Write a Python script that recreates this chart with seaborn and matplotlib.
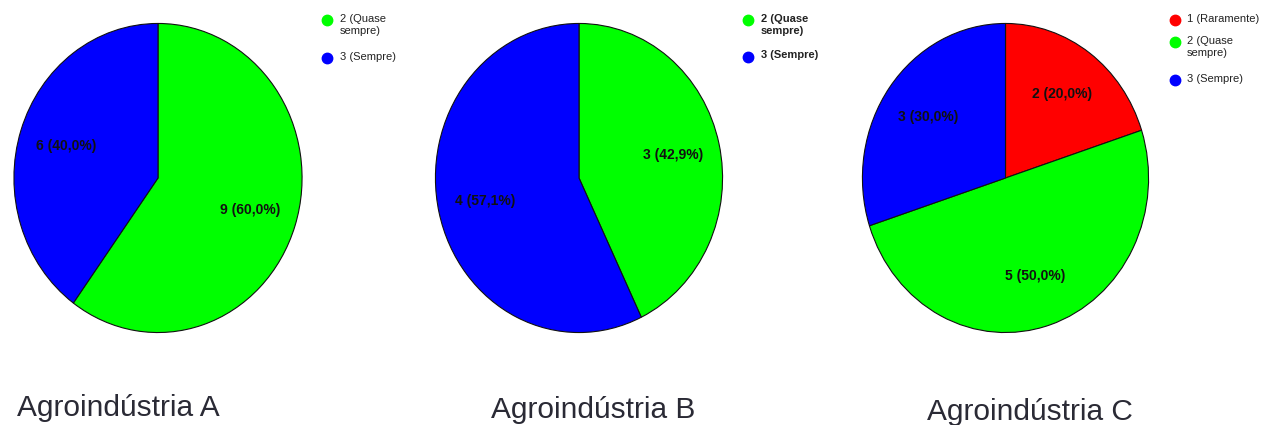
import matplotlib
matplotlib.use("Agg")
import matplotlib.pyplot as plt
from matplotlib.lines import Line2D
import seaborn as sns

sns.set_theme(style="white")
plt.rcParams['font.family'] = ['Liberation Sans', 'DejaVu Sans']

# ---- data ----
titles = ["Agroindústria A", "Agroindústria B", "Agroindústria C"]
labels_a = ["2 (Quase\nsempre)", "3 (Sempre)"]
values_a = [9, 6]
labels_b = ["2 (Quase\nsempre)", "3 (Sempre)"]
values_b = [3, 4]
labels_c = ["1 (Raramente)", "2 (Quase\nsempre)", "3 (Sempre)"]
values_c = [2, 5, 3]

color_map = {"1 (Raramente)": "#FF0000", "2 (Quase\nsempre)": "#00FF00", "3 (Sempre)": "#0000FF"}

W, H = 1264, 425
fig = plt.figure(figsize=(W / 100, H / 100), dpi=100)
fig.patch.set_facecolor("white")


def fx(px):
    return px / W


def fy(py):
    return 1 - py / H


# pixel boxes (left, right, top, bottom)
pie_boxes = [(13.5, 302.5, 23, 333), (435, 723, 23, 333), (862, 1149, 23, 333)]
legend_specs = [
    # marker x, text x, marker ys, bold
    (327, 340, [20, 58], False),
    (748, 761, [20, 57], True),
    (1175, 1187, [20, 42, 80], False),
]
title_pos = [(118, 408), (593, 410), (1030, 412)]

datasets = [(labels_a, values_a), (labels_b, values_b), (labels_c, values_c)]

for i, (labs, vals) in enumerate(datasets):
    l, r, t, b = pie_boxes[i]
    ax = fig.add_axes([fx(l), fy(b), fx(r - l), (b - t) / H])
    total = sum(vals)
    cols = [color_map[k] for k in labs]

    def fmt(p, total=total):
        n = int(round(p * total / 100))
        return f"{n} ({p:.1f}%)".replace(".", ",")

    wedges, texts, autotexts = ax.pie(
        vals, colors=cols, startangle=90, counterclock=False, radius=1,
        autopct=fmt, pctdistance=0.67,
        wedgeprops=dict(edgecolor="#111111", linewidth=0.8),
        textprops=dict(fontsize=10, fontweight="bold", color="#111111"),
    )
    ax.set_aspect("auto")
    ax.set_xlim(-1.003, 1.003)
    ax.set_ylim(-1.003, 1.003)
    ax.axis("off")

    # legend
    mx, tx, ys, bold = legend_specs[i]
    for lab, y in zip(labs, ys):
        fig.add_artist(Line2D([fx(mx)], [fy(y)], transform=fig.transFigure,
                              marker="o", markersize=7.5, color=color_map[lab],
                              linestyle="none"))
        fig.text(fx(tx), fy(y - 6.5), lab, fontsize=8, va="top", ha="left",
                 color="#222222", linespacing=1.25,
                 fontweight="bold" if bold else "normal")

    # title
    cx, cy = title_pos[i]
    fig.text(fx(cx), fy(cy), titles[i], fontsize=21.5, ha="center", va="center",
             color="#2a2a35")

fig.savefig("out.png", dpi=100, facecolor="white")
